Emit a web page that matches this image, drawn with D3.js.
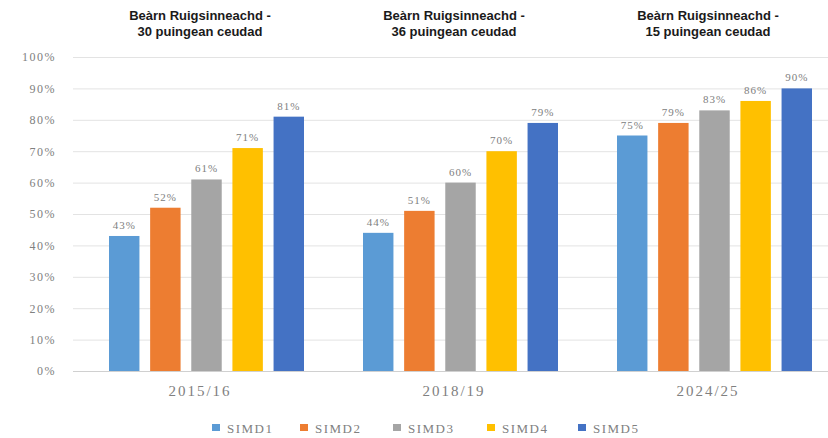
<!DOCTYPE html>
<html><head><meta charset="utf-8">
<script src="https://cdn.jsdelivr.net/npm/d3@7"></script>
<style>body{margin:0;background:#fff}svg{display:block}</style>
</head><body><svg id="c" width="828" height="438"></svg>
<script>
const categories = ["2015/16", "2018/19", "2024/25"];
const series = ["SIMD1", "SIMD2", "SIMD3", "SIMD4", "SIMD5"];
const simd1 = [43, 44, 75];
const simd2 = [52, 51, 79];
const simd3 = [61, 60, 83];
const simd4 = [71, 70, 86];
const simd5 = [81, 79, 90];
const titles = [["Beàrn Ruigsinneachd -", "30 puingean ceudad"],
                ["Beàrn Ruigsinneachd -", "36 puingean ceudad"],
                ["Beàrn Ruigsinneachd -", "15 puingean ceudad"]];
const yTicks = [0, 10, 20, 30, 40, 50, 60, 70, 80, 90, 100];
const colors = ["#5B9BD5", "#ED7D31", "#A5A5A5", "#FFC000", "#4472C4"];

const values = [simd1, simd2, simd3, simd4, simd5];
const svg = d3.select("#c");
const x0 = d3.scaleBand().domain(categories).range([73, 835]).paddingInner(0).paddingOuter(0);
const x1 = d3.scaleBand().domain(series).range([36, 36 + 185 + 10]).paddingInner(0.26).paddingOuter(0);
const y = d3.scaleLinear().domain([0, 100]).range([371, 57]);
const color = d3.scaleOrdinal().domain(series).range(colors);
const grayTxt = "#808080";

// gridlines
svg.append("g").selectAll("line").data(yTicks).join("line")
  .attr("x1", 73).attr("x2", 828)
  .attr("y1", d => y(d) + 0.5).attr("y2", d => y(d) + 0.5)
  .attr("stroke", d => d === 0 ? "#d0d0d0" : "#e3e3e3").attr("stroke-width", 1);

// y axis labels
const yAxis = d3.axisLeft(y).tickValues(yTicks).tickFormat(d => d + "%").tickSize(0).tickPadding(0);
const ga = svg.append("g").attr("transform", "translate(56,0)").call(yAxis);
ga.select(".domain").remove();
ga.selectAll("text").attr("fill", grayTxt).style("font-family", "Liberation Serif, serif")
  .style("font-size", "12px").style("letter-spacing", "1.5px");

// bars
const groups = svg.append("g").selectAll("g").data(categories).join("g")
  .attr("transform", d => `translate(${x0(d)},0)`);
groups.selectAll("rect").data((c, i) => series.map((s, k) => ({s, v: values[k][i]}))).join("rect")
  .attr("x", d => x1(d.s)).attr("width", x1.bandwidth())
  .attr("y", d => y(d.v)).attr("height", d => y(0) - y(d.v))
  .attr("fill", d => color(d.s));
groups.selectAll("text.lbl").data((c, i) => series.map((s, k) => ({s, v: values[k][i]}))).join("text")
  .attr("class", "lbl")
  .attr("x", d => x1(d.s) + x1.bandwidth() / 2).attr("y", d => y(d.v) - 7)
  .attr("text-anchor", "middle").attr("fill", grayTxt)
  .style("font-family", "Liberation Serif, serif").style("font-size", "11px").style("letter-spacing", "1px")
  .text(d => d.v + "%");

// category labels
const xAxis = d3.axisBottom(x0).tickSize(0).tickPadding(0);
const gx = svg.append("g").attr("transform", "translate(0,385)").call(xAxis);
gx.select(".domain").remove();
gx.selectAll("text").attr("fill", grayTxt).style("font-family", "Liberation Serif, serif")
  .style("font-size", "15px").style("letter-spacing", "2px");

// titles
groups.append("text").attr("text-anchor", "middle").attr("x", x0.bandwidth() / 2)
  .style("font-family", "Liberation Sans, Arial, sans-serif").style("font-size", "13px").style("font-weight", "bold")
  .attr("fill", "#1a1a1a")
  .selectAll("tspan").data((c, i) => titles[i]).join("tspan")
  .attr("x", x0.bandwidth() / 2).attr("y", (d, j) => 20 + j * 16).text(d => d);

// legend
const legX = [212, 300, 393, 487, 578];
const leg = svg.append("g").selectAll("g").data(series).join("g")
  .attr("transform", (d, i) => `translate(${legX[i]},424)`);
leg.append("rect").attr("width", 8).attr("height", 7).attr("y", 0).attr("fill", d => color(d));
leg.append("text").attr("x", 15).attr("y", 9).attr("fill", grayTxt)
  .style("font-family", "Liberation Serif, serif").style("font-size", "13px").style("letter-spacing", "1.5px").text(d => d);
</script></body></html>
